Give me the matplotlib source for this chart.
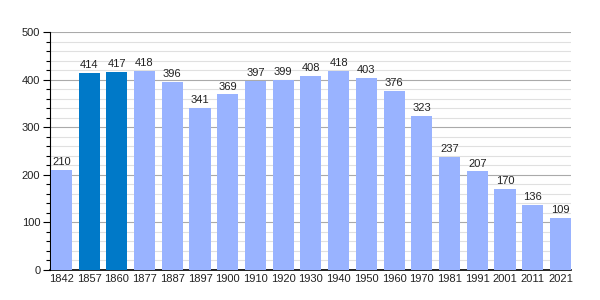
import matplotlib
matplotlib.use("Agg")
import matplotlib.pyplot as plt
from matplotlib.ticker import MultipleLocator

years = ["1842", "1857", "1860", "1877", "1887", "1897", "1900", "1910", "1920",
         "1930", "1940", "1950", "1960", "1970", "1981", "1991", "2001", "2011", "2021"]
population = [210, 414, 417, 418, 396, 341, 369, 397, 399, 408, 418, 403, 376, 323,
              237, 207, 170, 136, 109]
highlight = ["1857", "1860"]

plt.rcParams['font.family'] = ['Liberation Sans', 'DejaVu Sans']

fig = plt.figure(figsize=(6, 3), dpi=100)
ax = fig.add_axes([50/600, 30/300, 521/600, 238/300])

w = 0.76
colors = ["#0079c8" if y in highlight else "#99b3ff" for y in years]
x = list(range(len(years)))
bars = ax.bar(x, population, width=w, color=colors, zorder=3)
for xi, v in zip(x, population):
    ax.text(xi, v + 6, str(v), ha="center", va="bottom", fontsize=8, color="#222222", zorder=4)

ax.set_xlim(-w/2 - 0.03, len(years) - 1 + w/2)
ax.set_ylim(0, 500)
ax.set_xticks(x)
ax.set_xticklabels(years, fontsize=8, color="#222222")
ax.tick_params(axis="x", length=0, pad=3)
ax.yaxis.set_major_locator(MultipleLocator(100))
ax.yaxis.set_minor_locator(MultipleLocator(20))
ax.tick_params(axis="y", which="major", length=5, width=0.8, labelsize=8, labelcolor="#222222", pad=2)
ax.tick_params(axis="y", which="minor", length=3, width=0.8)
ax.grid(axis="y", which="major", color="#aaaaaa", linewidth=0.8, zorder=0)
ax.grid(axis="y", which="minor", color="#e0e0e0", linewidth=0.8, zorder=0)
ax.set_axisbelow(True)
for s in ["top", "right"]:
    ax.spines[s].set_visible(False)
ax.spines["left"].set_color("black")
ax.spines["bottom"].set_color("black")
ax.spines["bottom"].set_linewidth(1.2)

fig.savefig("out.png", dpi=100)
